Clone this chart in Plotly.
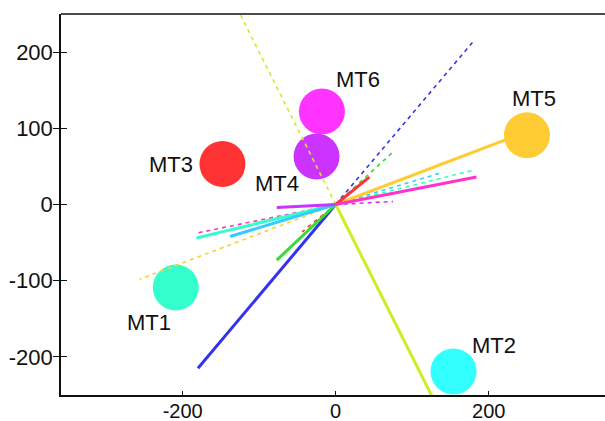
import plotly.graph_objects as go

# Sample points (scores)
point_names = ["MT1", "MT2", "MT3", "MT4", "MT5", "MT6"]
point_x = [-209, 154, -148, -25, 250, -18]
point_y = [-109, -219, 53, 63, 91, 122]
point_colors = ["#33ffcc", "#33ffff", "#ff3333", "#cc33ff", "#ffcc33", "#ff33ff"]

# Variable vectors (loadings): solid end and dashed end, from the origin
vec_colors = ["#3333ee", "#ccee22", "#ffcc33", "#ff3333", "#33dd33",
              "#ff33cc", "#33ffcc", "#33ccff", "#cc33ff"]
solid_x = [-180, 150, 256, 44, -77, 184, -182, -138, -77]
solid_y = [-215, -300, 98, 36, -73, 36, -44, -42, -4]
dash_x = [179, -150, -256, -44, 75, -184, 180, 136, 75]
dash_y = [213, 300, -98, -36, 69, -38, 45, 41, 4]

x_ticks = [-200, 0, 200]
x_tick_text = ["-200", "0", "200"]
y_ticks = [-200, -100, 0, 100, 200]
y_tick_text = ["-200", "-100", "0", "100", "200"]

# label offsets in pixels (style)
label_dx = [-27, 40, -51, -40, 7, 36]
label_dy = [-35, 26, 0, -27, 37, 32]

FONT = "Liberation Sans, Arial, sans-serif"

fig = go.Figure()

fig.add_trace(go.Scatter(
    x=point_x, y=point_y, mode="markers",
    marker=dict(size=46, color=point_colors, line=dict(width=0)),
    hoverinfo="skip", showlegend=False))

for i, c in enumerate(vec_colors):
    fig.add_trace(go.Scatter(
        x=[0, dash_x[i]], y=[0, dash_y[i]], mode="lines",
        line=dict(color=c, width=1.6, dash="4px,4px"),
        hoverinfo="skip", showlegend=False))
for i, c in enumerate(vec_colors):
    fig.add_trace(go.Scatter(
        x=[0, solid_x[i]], y=[0, solid_y[i]], mode="lines",
        line=dict(color=c, width=3),
        hoverinfo="skip", showlegend=False))

for i, n in enumerate(point_names):
    fig.add_annotation(x=point_x[i], y=point_y[i], text=n, showarrow=False,
                       xshift=label_dx[i], yshift=label_dy[i],
                       font=dict(family=FONT, size=22, color="#111111"))

fig.add_shape(type="line", xref="paper", yref="paper", x0=0, x1=1, y0=1, y1=1,
              line=dict(color="#111111", width=1.5))

fig.update_layout(
    width=605, height=421,
    margin=dict(l=61, r=0, t=14, b=26),
    paper_bgcolor="white", plot_bgcolor="white",
    font=dict(family=FONT, size=22, color="#111111"),
    xaxis=dict(range=[-359, 352], tickvals=x_ticks, ticktext=x_tick_text,
               ticks="inside", ticklen=4, automargin=False, ticklabelstandoff=-3,
               tickwidth=1.2, tickcolor="#111111", showline=True, linecolor="#111111",
               linewidth=1.5, showgrid=False, zeroline=False,
               tickfont=dict(family=FONT, size=20, color="#111111")),
    yaxis=dict(range=[-250, 250], tickvals=y_ticks, ticktext=y_tick_text,
               ticks="outside", ticklen=6, automargin=False, ticklabelstandoff=-4,
               tickwidth=1.2, tickcolor="#111111", showline=True, linecolor="#111111",
               linewidth=1.5, showgrid=False, zeroline=False,
               tickfont=dict(family=FONT, size=22, color="#111111")),
    yaxis2=dict(range=[-250, 250], tickvals=y_ticks, ticks="inside", ticklen=6,
                tickwidth=1.2, tickcolor="#111111", overlaying="y", side="left",
                anchor="x", showticklabels=False, showline=False, showgrid=False,
                zeroline=False, automargin=False),
)
fig.add_trace(go.Scatter(x=[None], y=[None], yaxis="y2", showlegend=False,
                         hoverinfo="skip"))

fig.write_html("out.html", config={"displayModeBar": False},
               post_script="document.body.style.margin='0';document.body.style.overflow='hidden';")
